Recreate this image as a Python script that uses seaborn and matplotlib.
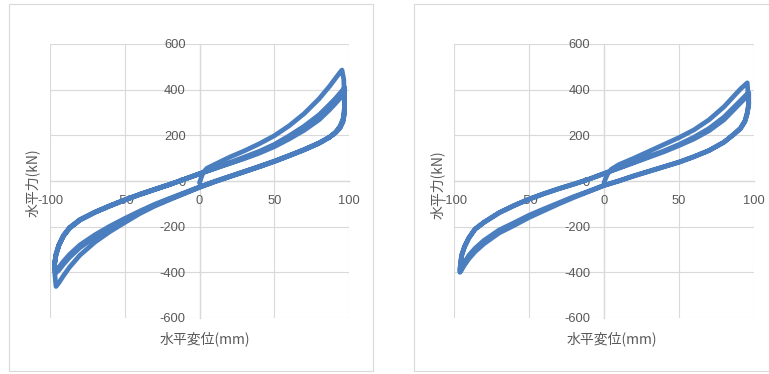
import matplotlib
matplotlib.use("Agg")
import matplotlib.pyplot as plt
import seaborn as sns
import pandas as pd
from matplotlib.patches import Rectangle

# ---------------- data ----------------
# Left chart: common displacement grid for the cyclic branches (mm)
A_X = [-97, -96, -94, -91, -87, -80, -70, -60, -50, -40, -30, -20, -10, 0,
       10, 20, 30, 40, 50, 60, 70, 80, 87, 91, 94, 96, 97]
# initial loading (first cycle, outer upper curve)
A_INIT_X = [0, 1, 2.5, 5, 10, 20, 30, 40, 50, 60, 70, 80, 87, 91, 94, 95.3, 96.5]
A_INIT_Y = [-8, 12, 38, 56, 72, 104, 132, 163, 198, 242, 295, 360, 415, 450, 476, 486, 445]
# unloading branches (traversed from +97 to -97)
A_LO1 = [-392, -462, -445, -415, -378, -325, -268, -222, -182, -143, -110, -82, -55, -28,
         -4, 18, 40, 62, 85, 110, 136, 165, 192, 214, 240, 272, 325]
A_LO2 = [-378, -402, -390, -365, -335, -292, -245, -205, -170, -137, -106, -79, -53, -27,
         -3, 19, 41, 63, 86, 111, 137, 166, 192, 212, 235, 265, 305]
A_LO3 = [-370, -388, -377, -352, -322, -280, -236, -198, -164, -132, -102, -76, -51, -26,
         -2, 20, 42, 64, 87, 112, 138, 167, 192, 211, 232, 258, 295]
# reloading branches (traversed from -97 to +97)
A_UP2 = [-368, -325, -282, -242, -208, -172, -138, -110, -84, -60, -38, -16, 8, 32,
         56, 80, 105, 130, 160, 198, 240, 290, 335, 362, 385, 400, 410]
A_UP3 = [-366, -322, -280, -240, -206, -170, -137, -109, -83, -59, -37, -15, 8, 32,
         55, 78, 101, 126, 155, 190, 230, 278, 322, 350, 372, 388, 397]
A_UP4 = [-364, -320, -278, -238, -204, -169, -136, -108, -82, -58, -36, -15, 8, 31,
         54, 76, 98, 122, 150, 184, 222, 268, 312, 340, 362, 378, 388]

# Right chart
B_X = [-96, -95, -93, -90, -86, -80, -70, -60, -50, -40, -30, -20, -10, 0,
       10, 20, 30, 40, 50, 60, 70, 80, 87, 91, 94, 95.5, 96.5]
B_INIT_X = [0, 1, 2.5, 5, 10, 20, 30, 40, 50, 60, 70, 80, 87, 91, 94, 95.5]
B_INIT_Y = [-8, 10, 32, 52, 72, 100, 130, 160, 190, 224, 268, 325, 375, 403, 421, 430]
B_LO1 = [-400, -390, -368, -340, -310, -275, -228, -195, -160, -130, -100, -72, -46, -20,
         0, 22, 42, 62, 82, 106, 133, 170, 208, 232, 265, 300, 340]
B_LO2 = [-396, -382, -355, -325, -295, -260, -215, -183, -150, -122, -95, -68, -44, -19,
         1, 23, 43, 63, 83, 107, 134, 170, 206, 229, 260, 295, 335]
B_UP2 = [-385, -330, -290, -250, -212, -182, -140, -108, -80, -56, -34, -14, 8, 33,
         58, 82, 108, 132, 160, 192, 230, 280, 326, 352, 372, 382, 386]
B_UP3 = [-383, -326, -286, -247, -210, -180, -139, -107, -79, -55, -33, -13, 8, 32,
         56, 80, 104, 128, 155, 184, 220, 268, 315, 342, 362, 372, 378]

X_TICKS = [-100, -50, 0, 50, 100]
Y_TICKS = [-600, -400, -200, 0, 200, 400, 600]
Y_LABEL = "水平力(kN)"
X_LABEL = "水平変位(mm)"

BLUE = "#4A7EBF"
GRID = "#D9D9D9"
TXT = "#595959"


def build_path(init_x, init_y, grid, branches):
    xs, ys = list(init_x), list(init_y)
    for kind, vals in branches:
        if kind == "lo":
            xs += grid[::-1]
            ys += vals[::-1]
        else:
            xs += grid
            ys += vals
    return pd.DataFrame({"x": xs, "y": ys, "step": range(len(xs))})


df_a = build_path(A_INIT_X, A_INIT_Y, A_X,
                  [("lo", A_LO1), ("up", A_UP2), ("lo", A_LO2), ("up", A_UP3),
                   ("lo", A_LO3), ("up", A_UP4)])
df_b = build_path(B_INIT_X, B_INIT_Y, B_X,
                  [("lo", B_LO1), ("up", B_UP2), ("lo", B_LO2), ("up", B_UP3)])

sns.set_theme(style="white")
plt.rcParams["font.family"] = ["Liberation Sans", "Noto Sans CJK JP", "DejaVu Sans"]
plt.rcParams["axes.unicode_minus"] = False

W, H = 769, 374
fig = plt.figure(figsize=(W / 100, H / 100), dpi=100)
fig.patch.set_facecolor("white")

# panel borders
fig.patches.append(Rectangle((9 / W, 3 / H), 364 / W, 367 / H, transform=fig.transFigure,
                             fill=False, ec=GRID, lw=0.8))
fig.patches.append(Rectangle((414 / W, 3 / H), 400 / W, 367 / H, transform=fig.transFigure,
                             fill=False, ec=GRID, lw=0.8))


def style_axes(ax):
    ax.set_xlim(-100, 100)
    ax.set_ylim(-600, 600)
    ax.set_xticks(X_TICKS)
    ax.set_yticks(Y_TICKS)
    ax.set_xticklabels([str(v) for v in X_TICKS])
    ax.set_yticklabels([str(v) for v in Y_TICKS])
    ax.grid(True, color=GRID, lw=0.8)
    ax.set_axisbelow(True)
    for s in ["top", "right"]:
        ax.spines[s].set_visible(False)
    ax.spines["left"].set_position(("data", 0))
    ax.spines["bottom"].set_position(("data", 0))
    for s in ["left", "bottom"]:
        ax.spines[s].set_color("#CFCFCF")
        ax.spines[s].set_linewidth(0.9)
        ax.spines[s].set_zorder(0.5)
    ax.tick_params(length=0, pad=10, labelsize=9.3, colors=TXT)
    ax.set_xlabel("")
    ax.set_ylabel("")
    ax.set_facecolor("white")


axes_specs = [
    (df_a, [50 / W, 56 / H, 299 / W, 274 / H], (32, 183), (205, 339)),
    (df_b, [454 / W, 56 / H, 300 / W, 274 / H], (437, 185), (612, 339)),
]
for df, rect, ylab_pos, xlab_pos in axes_specs:
    ax = fig.add_axes(rect)
    sns.lineplot(data=df, x="x", y="y", sort=False, estimator=None, ax=ax,
                 color=BLUE, linewidth=3.4, legend=False)
    style_axes(ax)
    fig.text(ylab_pos[0] / W, 1 - ylab_pos[1] / H, Y_LABEL, rotation=90,
             ha="center", va="center", fontsize=10, color=TXT,
             family=["Noto Sans CJK JP", "DejaVu Sans"])
    fig.text(xlab_pos[0] / W, 1 - xlab_pos[1] / H, X_LABEL,
             ha="center", va="center", fontsize=10, color=TXT,
             family=["Noto Sans CJK JP", "DejaVu Sans"])

fig.savefig("out.png", dpi=100, facecolor="white")
